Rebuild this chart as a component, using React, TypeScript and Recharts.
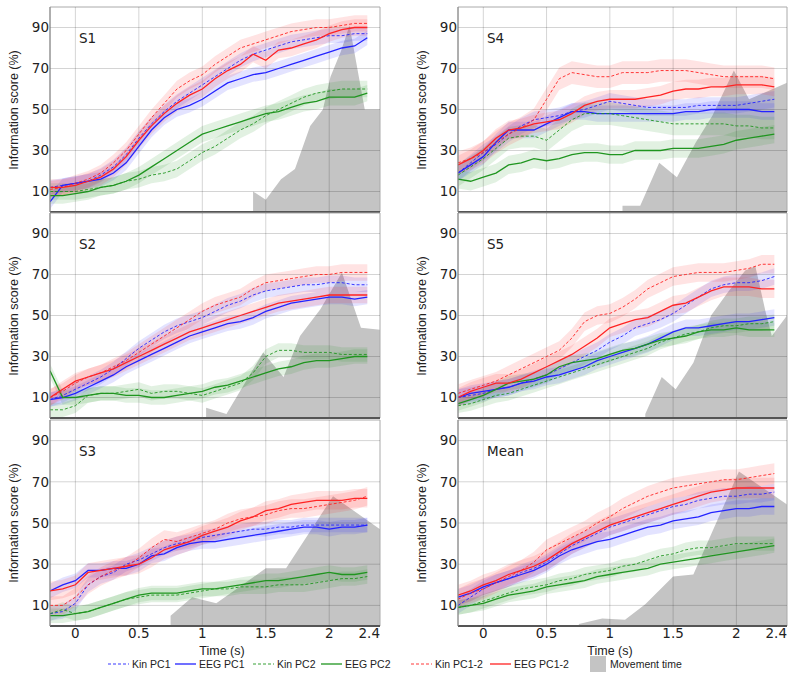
import { ComposedChart, Line, Area, XAxis, YAxis, ReferenceLine, ReferenceArea } from 'recharts';

// time base (s) shared by every curve, and the axis ticks
const time = [-0.2, -0.1, 0, 0.1, 0.2, 0.3, 0.4, 0.5, 0.6, 0.7, 0.8, 0.9, 1, 1.1, 1.2, 1.3, 1.4, 1.5, 1.6, 1.7, 1.8, 1.9, 2, 2.1, 2.2, 2.3];
const xTicks = [0, 0.5, 1, 1.5, 2, 2.4];
const yTicks = [10, 30, 50, 70, 90];
const seriesNames = ['Kin PC1', 'EEG PC1', 'Kin PC2', 'EEG PC2', 'Kin PC1-2', 'EEG PC1-2'];

// S1
const s1KinPc1 = [12, 13, 14, 15, 18, 22, 28, 36, 43, 49, 54, 58, 62, 66, 70, 74, 77, 79, 81, 83, 84, 85, 86, 86, 87, 87];
const s1EegPc1 = [5, 13, 14, 15, 16, 19, 24, 32, 40, 46, 50, 52, 55, 59, 63, 65, 67, 68, 70, 72, 74, 76, 78, 80, 81, 85];
const s1KinPc2 = [10, 10, 10, 11, 12, 13, 15, 16, 18, 19, 21, 25, 29, 32, 36, 40, 43, 47, 50, 53, 56, 58, 59, 60, 60, 60];
const s1EegPc2 = [8, 8, 9, 10, 12, 13, 15, 18, 22, 26, 30, 34, 38, 40, 42, 44, 46, 48, 49, 51, 53, 54, 56, 56, 56, 58];
const s1KinPc12 = [11, 12, 14, 16, 19, 24, 30, 38, 46, 53, 60, 64, 67, 72, 76, 80, 82, 84, 86, 88, 89, 90, 90, 91, 92, 92];
const s1EegPc12 = [12, 12, 13, 15, 17, 21, 27, 35, 42, 48, 53, 57, 60, 65, 69, 72, 77, 74, 79, 80, 82, 84, 87, 89, 90, 90];
const s1Band = [3.5, 3.5, 4, 4, 4, 4];
const s1MoveT = [1.4, 1.5, 1.62, 1.73, 1.85, 1.95, 2.01, 2.09, 2.16, 2.28, 2.4];
const s1MoveV = [10, 6, 16, 21, 42, 50, 66, 78, 91, 50, 50];

// S2
const s2KinPc1 = [9, 11, 14, 17, 20, 24, 29, 34, 38, 42, 45, 47, 49, 52, 55, 57, 60, 62, 63, 64, 65, 65, 66, 66, 65, 65];
const s2EegPc1 = [9, 10, 12, 15, 18, 21, 25, 28, 31, 34, 37, 40, 42, 44, 46, 47, 49, 52, 54, 56, 57, 58, 59, 59, 58, 59];
const s2KinPc2 = [4, 4, 6, 11, 12, 12, 13, 14, 12, 13, 13, 12, 11, 13, 15, 17, 22, 30, 33, 33, 32, 32, 32, 31, 31, 31];
const s2EegPc2 = [23, 10, 10, 11, 12, 12, 11, 11, 10, 10, 11, 12, 13, 15, 16, 18, 20, 22, 24, 25, 27, 28, 28, 29, 30, 30];
const s2KinPc12 = [10, 13, 17, 20, 22, 25, 28, 32, 36, 40, 44, 48, 52, 55, 57, 59, 63, 66, 67, 68, 69, 70, 70, 71, 71, 71];
const s2EegPc12 = [10, 14, 18, 20, 22, 24, 27, 30, 33, 36, 39, 42, 44, 46, 48, 50, 52, 54, 56, 57, 58, 59, 60, 60, 60, 60];
const s2Band = [3.5, 3.5, 3.5, 3.5, 4, 4];
const s2MoveT = [1.03, 1.19, 1.48, 1.64, 1.77, 1.93, 2.1, 2.25, 2.4];
const s2MoveV = [5, 2, 32, 20, 40, 53, 71, 44, 43];

// S3
const s3KinPc1 = [6, 7, 11, 20, 24, 26, 30, 32, 35, 38, 40, 41, 43, 44, 45, 46, 47, 47, 48, 48, 49, 49, 49, 49, 49, 49];
const s3EegPc1 = [17, 20, 22, 27, 27, 28, 28, 30, 34, 35, 38, 40, 41, 41, 42, 43, 44, 45, 46, 47, 48, 48, 47, 48, 48, 49];
const s3KinPc2 = [6, 8, 6, 7, 9, 11, 13, 14, 15, 15, 15, 16, 17, 18, 18, 19, 19, 19, 20, 20, 20, 21, 22, 23, 23, 24];
const s3EegPc2 = [5, 5, 6, 7, 9, 11, 13, 15, 16, 16, 16, 17, 18, 18, 19, 20, 21, 22, 22, 23, 24, 25, 26, 25, 25, 26];
const s3KinPc12 = [10, 10, 14, 20, 24, 27, 29, 33, 38, 42, 41, 43, 45, 47, 50, 52, 53, 54, 56, 57, 57, 58, 59, 60, 61, 63];
const s3EegPc12 = [17, 18, 20, 26, 27, 28, 29, 30, 33, 37, 39, 41, 44, 46, 48, 51, 53, 56, 57, 59, 60, 61, 61, 61, 62, 62];
const s3Band = [3.5, 3.5, 3.5, 3.5, 4.5, 4.5];
const s3MoveT = [0.75, 0.92, 1.11, 1.5, 1.66, 2.03, 2.4];
const s3MoveV = [5, 14, 11, 28, 28, 63, 47];

// S4
const s4KinPc1 = [19, 24, 29, 33, 38, 42, 45, 46, 47, 49, 50, 52, 54, 53, 52, 51, 51, 51, 51, 52, 52, 52, 52, 53, 54, 55];
const s4EegPc1 = [19, 23, 27, 34, 40, 40, 40, 43, 46, 49, 49, 48, 48, 48, 48, 48, 48, 48, 49, 49, 50, 50, 50, 50, 49, 49];
const s4KinPc2 = [18, 22, 26, 31, 36, 37, 37, 35, 40, 45, 48, 48, 48, 47, 46, 45, 44, 43, 43, 43, 43, 43, 42, 42, 41, 41];
const s4EegPc2 = [16, 15, 17, 19, 23, 24, 26, 25, 26, 28, 29, 29, 28, 28, 30, 30, 30, 31, 31, 31, 32, 33, 35, 36, 37, 38];
const s4KinPc12 = [24, 26, 29, 34, 38, 41, 45, 55, 65, 68, 67, 66, 66, 68, 68, 68, 69, 69, 69, 68, 67, 66, 66, 66, 66, 65];
const s4EegPc12 = [23, 26, 30, 36, 40, 41, 43, 44, 45, 48, 52, 54, 55, 55, 55, 56, 57, 59, 60, 60, 61, 61, 62, 62, 62, 61];
const s4Band = [4, 4, 5.5, 4.5, 5.5, 4.5];
const s4MoveT = [1.1, 1.24, 1.39, 1.53, 1.68, 1.81, 1.98, 2.1, 2.4];
const s4MoveV = [3, 3, 24, 17, 34, 47, 69, 55, 63];

// S5
const s5KinPc1 = [10, 11, 12, 14, 15, 17, 19, 21, 24, 27, 30, 33, 37, 40, 44, 46, 48, 51, 55, 59, 63, 65, 66, 66, 67, 69];
const s5EegPc1 = [10, 12, 13, 14, 15, 17, 18, 20, 21, 23, 25, 28, 30, 32, 34, 36, 39, 42, 44, 44, 45, 46, 47, 47, 48, 49];
const s5KinPc2 = [6, 7, 9, 11, 12, 14, 16, 18, 20, 22, 24, 26, 28, 30, 32, 34, 37, 39, 41, 42, 44, 45, 45, 46, 46, 47];
const s5EegPc2 = [7, 9, 11, 14, 17, 18, 19, 21, 25, 27, 28, 29, 31, 33, 34, 36, 38, 39, 40, 42, 43, 43, 44, 43, 43, 43];
const s5KinPc12 = [12, 14, 16, 18, 21, 24, 27, 30, 33, 39, 47, 50, 51, 54, 58, 63, 66, 69, 70, 71, 71, 71, 72, 73, 75, 75];
const s5EegPc12 = [10, 13, 15, 17, 17, 19, 22, 25, 28, 31, 35, 39, 44, 46, 48, 49, 52, 55, 56, 59, 62, 64, 64, 64, 63, 63];
const s5Band = [4, 4, 3.5, 3.5, 4.5, 4.5];
const s5MoveT = [1.28, 1.41, 1.52, 1.66, 1.8, 1.94, 2.07, 2.15, 2.23, 2.28, 2.4];
const s5MoveV = [2, 20, 14, 27, 50, 62, 72, 74, 52, 40, 50];

// Mean
const mKinPc1 = [10, 14, 18, 21, 23, 26, 28, 31, 35, 39, 42, 45, 48, 50, 52, 54, 56, 58, 59, 61, 62, 63, 63, 64, 64, 65];
const mEegPc1 = [14, 16, 19, 21, 23, 25, 27, 30, 34, 37, 39, 41, 42, 44, 46, 48, 49, 51, 52, 53, 55, 56, 57, 57, 58, 58];
const mKinPc2 = [9, 10, 12, 14, 16, 18, 19, 20, 22, 23, 25, 26, 27, 29, 30, 32, 34, 35, 37, 38, 38, 39, 40, 40, 40, 40];
const mEegPc2 = [9, 10, 11, 13, 15, 16, 17, 19, 20, 21, 22, 24, 25, 26, 27, 28, 30, 31, 32, 33, 34, 35, 36, 37, 38, 39];
const mKinPc12 = [13, 16, 18, 21, 24, 27, 31, 37, 40, 43, 46, 50, 53, 57, 60, 63, 65, 67, 68, 69, 70, 71, 71, 72, 73, 74];
const mEegPc12 = [15, 17, 20, 22, 25, 27, 29, 32, 36, 40, 43, 46, 49, 51, 53, 55, 57, 59, 61, 63, 65, 66, 67, 67, 67, 67];
const mBand = [4, 4, 3.5, 3.5, 5, 5];
const mMoveT = [0.755, 0.94, 1.12, 1.28, 1.5, 1.66, 2.02, 2.4];
const mMoveV = [1, 3.6, 3, 10.5, 24, 25, 75, 59];

const SERIES = [
  { key: 'kinPc1', color: '#2323ff', dashed: true },
  { key: 'eegPc1', color: '#2323ff', dashed: false },
  { key: 'kinPc2', color: '#1f951f', dashed: true },
  { key: 'eegPc2', color: '#1f951f', dashed: false },
  { key: 'kinPc12', color: '#ff2323', dashed: true },
  { key: 'eegPc12', color: '#ff2323', dashed: false },
];

const PANELS = [
  { name: 'S1', col: 0, row: 0, values: [s1KinPc1, s1EegPc1, s1KinPc2, s1EegPc2, s1KinPc12, s1EegPc12], band: s1Band, moveT: s1MoveT, moveV: s1MoveV },
  { name: 'S2', col: 0, row: 1, values: [s2KinPc1, s2EegPc1, s2KinPc2, s2EegPc2, s2KinPc12, s2EegPc12], band: s2Band, moveT: s2MoveT, moveV: s2MoveV },
  { name: 'S3', col: 0, row: 2, values: [s3KinPc1, s3EegPc1, s3KinPc2, s3EegPc2, s3KinPc12, s3EegPc12], band: s3Band, moveT: s3MoveT, moveV: s3MoveV },
  { name: 'S4', col: 1, row: 0, values: [s4KinPc1, s4EegPc1, s4KinPc2, s4EegPc2, s4KinPc12, s4EegPc12], band: s4Band, moveT: s4MoveT, moveV: s4MoveV },
  { name: 'S5', col: 1, row: 1, values: [s5KinPc1, s5EegPc1, s5KinPc2, s5EegPc2, s5KinPc12, s5EegPc12], band: s5Band, moveT: s5MoveT, moveV: s5MoveV },
  { name: 'Mean', col: 1, row: 2, values: [mKinPc1, mEegPc1, mKinPc2, mEegPc2, mKinPc12, mEegPc12], band: mBand, moveT: mMoveT, moveV: mMoveV },
];

// layout
const COL_LEFT = [0, 408];
const COL_WIDTH = [382, 381];
const ROW_TOP = [7, 213, 420];
const ROW_H = [205, 205, 206];
const Y_AXIS_W = 50;
const TICK_FONT = { fontSize: 13.5, fill: '#222', fontFamily: 'DejaVu Sans' };

function buildRows(p: typeof PANELS[number]) {
  const rows: any[] = time.map((t, i) => {
    const r: any = { t };
    SERIES.forEach((s, j) => {
      const v = p.values[j][i];
      r[s.key] = v;
      r[s.key + 'Band'] = [Math.max(0, v - p.band[j]), v + p.band[j]];
    });
    return r;
  });
  p.moveT.forEach((t, i) => rows.push({ t, move: p.moveV[i] }));
  return rows.sort((a, b) => a.t - b.t);
}

const TimeTick = (props: any) => {
  const { x, y, payload } = props;
  const last = payload.value === xTicks[xTicks.length - 1];
  return (
    <text x={x} y={y} dy="0.71em" textAnchor={last ? 'end' : 'middle'} {...TICK_FONT}>
      {payload.value}
    </text>
  );
};

function Panel({ p }: { p: typeof PANELS[number] }) {
  const bottom = p.row === 2;
  const xAxisH = bottom ? 28 : 4;
  const plotH = ROW_H[p.row];
  const data = buildRows(p);
  return (
    <div style={{ position: 'absolute', left: COL_LEFT[p.col], top: ROW_TOP[p.row] - 5 }}>
      <ComposedChart
        width={COL_WIDTH[p.col]}
        height={5 + plotH + xAxisH}
        data={data}
        margin={{ top: 5, right: 2, bottom: 0, left: 0 }}
      >
        <XAxis
          dataKey="t"
          type="number"
          domain={[-0.2, 2.4]}
          ticks={xTicks}
          interval={0}
          allowDataOverflow
          height={xAxisH}
          tickLine={false}
          tickSize={0}
          tickMargin={2}
          axisLine={{ stroke: '#555', strokeWidth: 2 }}
          tick={bottom ? <TimeTick /> : false}
        />
        <YAxis
          type="number"
          domain={[0, 100]}
          ticks={yTicks}
          interval={0}
          width={Y_AXIS_W}
          tickLine={false}
          tickSize={0}
          tickMargin={1}
          axisLine={{ stroke: '#888' }}
          tick={TICK_FONT}
        />
        <Area
          dataKey="move"
          type="linear"
          fill="#c4c4c4"
          fillOpacity={1}
          stroke="none"
          connectNulls
          dot={false}
          activeDot={false}
          isAnimationActive={false}
        />
        {SERIES.map((s) => (
          <Area
            key={s.key + 'Band'}
            dataKey={s.key + 'Band'}
            type="linear"
            fill={s.color}
            fillOpacity={0.13}
            stroke="none"
            connectNulls
            dot={false}
            activeDot={false}
            isAnimationActive={false}
          />
        ))}
        {xTicks.slice(0, -1).map((t) => (
          <ReferenceLine key={'gx' + t} x={t} stroke="#000" strokeOpacity={0.17} />
        ))}
        {yTicks.map((v) => (
          <ReferenceLine key={'gy' + v} y={v} stroke="#000" strokeOpacity={0.17} />
        ))}
        <ReferenceArea x1={-0.2} x2={2.4} y1={0} y2={100} fill="none" stroke="#aaa" />
        {SERIES.map((s) => (
          <Line
            key={s.key}
            dataKey={s.key}
            type="linear"
            stroke={s.color}
            strokeWidth={s.dashed ? 0.9 : 1.3}
            strokeDasharray={s.dashed ? '3 2' : undefined}
            connectNulls
            dot={false}
            activeDot={false}
            isAnimationActive={false}
          />
        ))}
      </ComposedChart>
      <div
        style={{
          position: 'absolute',
          left: Y_AXIS_W + 29,
          top: 29,
          fontFamily: 'DejaVu Sans',
          fontSize: 13.5,
          lineHeight: '14px',
          color: '#222',
        }}
      >
        {p.name}
      </div>
      <div
        style={{
          position: 'absolute',
          left: 14,
          top: 5 + plotH / 2,
          transform: 'translate(-50%, -50%) rotate(-90deg)',
          whiteSpace: 'nowrap',
          fontFamily: 'Liberation Sans',
          fontSize: 12.5,
          color: '#222',
        }}
      >
        Information score (%)
      </div>
    </div>
  );
}

const LEGEND_X = [108, 175, 253, 321, 411, 490];

export default function App() {
  return (
    <div
      style={{
        position: 'absolute',
        left: 0,
        top: 0,
        width: 795,
        height: 679,
        overflow: 'hidden',
        background: '#fff',
      }}
    >
      {PANELS.map((p) => (
        <Panel key={p.name} p={p} />
      ))}
      {[222, 610].map((cx, i) => (
        <div
          key={'time' + i}
          style={{
            position: 'absolute',
            left: cx,
            top: 651,
            transform: 'translate(-50%, -50%)',
            fontFamily: 'Liberation Sans',
            fontSize: 12.5,
            color: '#222',
            whiteSpace: 'nowrap',
          }}
        >
          Time (s)
        </div>
      ))}
      {SERIES.map((s, i) => (
        <div
          key={'leg' + s.key}
          style={{
            position: 'absolute',
            left: LEGEND_X[i],
            top: 657,
            height: 14,
            display: 'flex',
            alignItems: 'center',
            fontFamily: 'Liberation Sans',
            fontSize: 10.5,
            color: '#222',
            whiteSpace: 'nowrap',
          }}
        >
          <svg width={21} height={4} style={{ marginRight: 3 }}>
            <line
              x1={0}
              y1={2}
              x2={21}
              y2={2}
              stroke={s.color}
              strokeWidth={s.dashed ? 0.9 : 1.3}
              strokeDasharray={s.dashed ? '3 2' : undefined}
            />
          </svg>
          {seriesNames[i]}
        </div>
      ))}
      <div
        style={{
          position: 'absolute',
          left: 590,
          top: 656,
          height: 16,
          display: 'flex',
          alignItems: 'center',
          fontFamily: 'Liberation Sans',
          fontSize: 10.5,
          color: '#222',
          whiteSpace: 'nowrap',
        }}
      >
        <span style={{ display: 'inline-block', width: 16, height: 16, background: '#c4c4c4', marginRight: 4 }} />
        Movement time
      </div>
    </div>
  );
}
